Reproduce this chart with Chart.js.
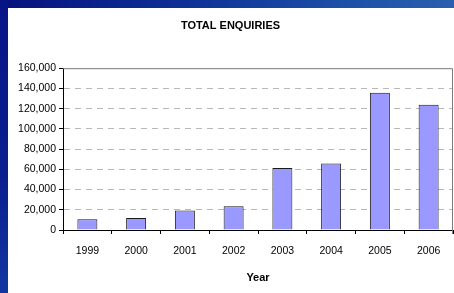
<!DOCTYPE html>
<html>
<head>
<meta charset="utf-8">
<script src="https://cdn.jsdelivr.net/npm/chart.js@4"></script>
<style>
  html, body { margin: 0; padding: 0; }
  body {
    width: 454px; height: 293px; overflow: hidden; position: relative;
    background: linear-gradient(90deg, #06127e 0%, #0d2f96 40%, #1c4fa6 75%, #2a5fb0 100%);
  }
  #band {
    position: absolute; left: 0; top: 0; width: 8px; height: 293px;
    background: linear-gradient(180deg, #071486 0%, #0a1f8e 60%, #1237a0 100%);
  }
  #box { position: absolute; left: 8px; top: 8px; width: 446px; height: 285px; background: #fff; }
</style>
</head>
<body>
<div id="band"></div>
<div id="box"><canvas id="enq" width="446" height="285"></canvas></div>
<script>
var years = ['1999', '2000', '2001', '2002', '2003', '2004', '2005', '2006'];
var enquiries = [10600, 11900, 19200, 23500, 61400, 65700, 135600, 123800];
var yMax = 160000;
var yStep = 20000;

var FONT = 'Arial, "Liberation Sans", sans-serif';

// grey frame on the top and right of the plot area
var plotFrame = {
  id: 'plotFrame',
  afterDraw: function(chart) {
    var a = chart.chartArea, ctx = chart.ctx;
    ctx.save();
    ctx.strokeStyle = '#7a7a7a';
    ctx.lineWidth = 1;
    ctx.beginPath();
    ctx.moveTo(a.left, a.top + 0.5);
    ctx.lineTo(a.right - 0.5, a.top + 0.5);
    ctx.lineTo(a.right - 0.5, a.bottom + 4);
    ctx.stroke();
    ctx.restore();
  }
};

new Chart(document.getElementById('enq'), {
  type: 'bar',
  data: {
    labels: years,
    datasets: [{
      label: 'Total enquiries',
      data: enquiries,
      backgroundColor: '#9999ff',
      borderColor: '#1a1a1a',
      borderWidth: 1,
      categoryPercentage: 1,
      barPercentage: 0.41
    }]
  },
  options: {
    responsive: false,
    animation: false,
    layout: { padding: { left: 0, right: 1, top: 0, bottom: 0 } },
    plugins: {
      legend: { display: false },
      tooltip: { enabled: false },
      title: {
        display: true,
        text: 'TOTAL ENQUIRIES',
        color: '#000',
        font: { family: FONT, size: 11, weight: 'bold' },
        padding: { top: 11, bottom: 36 }
      }
    },
    scales: {
      x: {
        grid: {
          offset: true,
          drawOnChartArea: false,
          drawTicks: true,
          tickLength: 4,
          tickColor: '#000'
        },
        border: { color: '#000', width: 1 },
        ticks: { color: '#000', padding: 11, font: { family: FONT, size: 10.5 }, maxRotation: 0 },
        title: {
          display: true,
          text: 'Year',
          color: '#000',
          font: { family: FONT, size: 11, weight: 'bold' },
          padding: { top: 0, bottom: 8 }
        },
        afterFit: function(s) { s.height = 63; }
      },
      y: {
        min: 0,
        max: yMax,
        grid: {
          color: function(c) { return c.tick && (c.tick.value === 0 || c.tick.value === yMax) ? 'rgba(0,0,0,0)' : '#b8b8b8'; },
          tickColor: '#000',
          tickLength: 4,
          drawTicks: true
        },
        border: { color: '#000', width: 1, dash: [6, 5] },
        ticks: {
          stepSize: yStep,
          color: '#000',
          padding: 3,
          font: { family: FONT, size: 10.5 },
          callback: function(v) { return v.toLocaleString('en-US'); }
        },
        afterFit: function(s) { s.width = 55; }
      }
    }
  },
  plugins: [plotFrame]
});
</script>
</body>
</html>
